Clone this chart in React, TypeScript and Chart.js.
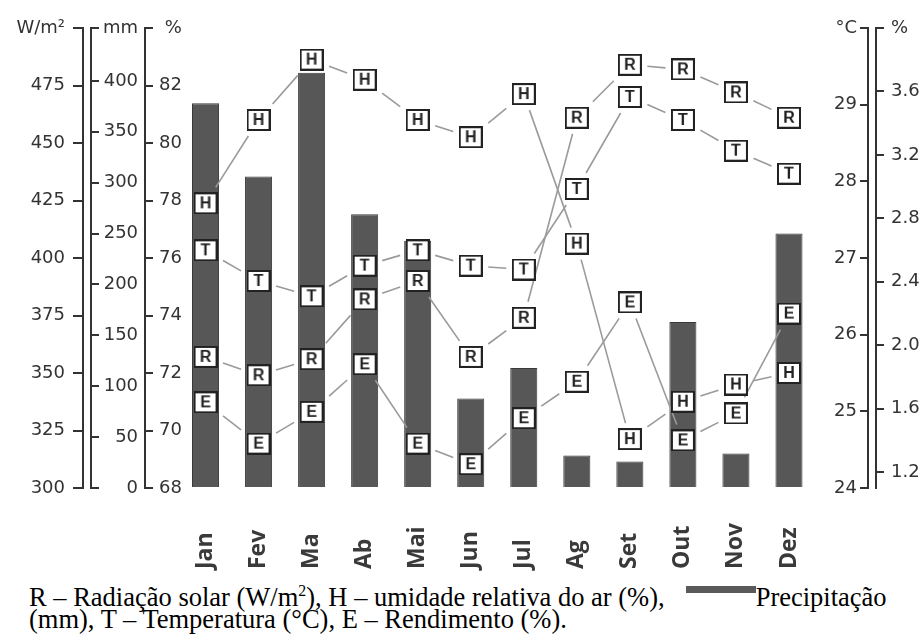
import React, { useEffect, useRef } from 'react';
import { Chart, registerables } from 'chart.js';

Chart.register(...registerables);

// ---- data ----
const months = ['Jan', 'Fev', 'Ma', 'Ab', 'Mai', 'Jun', 'Jul', 'Ag', 'Set', 'Out', 'Nov', 'Dez'];
const precipitationMm = [378, 306, 408, 269, 243, 88, 118, 32, 26, 163, 34, 250];
const radiationWm2 = [357, 349, 356, 382, 390, 357, 374, 461, 484, 482, 472, 461];
const humidityPct = [77.9, 80.8, 82.9, 82.2, 80.8, 80.2, 81.7, 76.5, 69.7, 71.0, 71.6, 72.0];
const temperatureC = [27.1, 26.7, 26.5, 26.9, 27.1, 26.9, 26.85, 27.9, 29.1, 28.8, 28.4, 28.1];
const yieldPct = [1.64, 1.38, 1.58, 1.88, 1.38, 1.25, 1.54, 1.77, 2.27, 1.4, 1.57, 2.2];

const radiationTicks = [300, 325, 350, 375, 400, 425, 450, 475, 500];
const precipTicks = [0, 50, 100, 150, 200, 250, 300, 350, 400, 452];
const humidityTicks = [68, 70, 72, 74, 76, 78, 80, 82, 84];
const tempTicks = [24, 25, 26, 27, 28, 29, 30];
const yieldTicks = [1.2, 1.6, 2.0, 2.4, 2.8, 3.2, 3.6, 4.0];

const AXIS = '#333333';
const TICK_FONT = { family: 'DejaVu Sans', size: 18 };
const GAP = 5.5;

function makeBox(letter: string): HTMLCanvasElement {
  const c = document.createElement('canvas');
  c.width = 24;
  c.height = 22;
  const g = c.getContext('2d')!;
  g.fillStyle = '#ffffff';
  g.fillRect(1, 1, 22, 20);
  g.strokeStyle = '#222222';
  g.lineWidth = 2;
  g.strokeRect(1, 1, 22, 20);
  g.fillStyle = '#222222';
  g.font = 'bold 16px "Liberation Sans"';
  g.textAlign = 'center';
  g.textBaseline = 'middle';
  g.fillText(letter, 12, 11.5);
  return c;
}

function drawGappedSegment(ctx: CanvasRenderingContext2D, a: any, b: any) {
  const dx = b.x - a.x;
  const dy = b.y - a.y;
  const hw = 12 + GAP;
  const hh = 10.5 + GAP;
  const t = Math.min(dx ? hw / Math.abs(dx) : Infinity, dy ? hh / Math.abs(dy) : Infinity);
  if (2 * t >= 1) return;
  ctx.beginPath();
  ctx.moveTo(a.x + dx * t, a.y + dy * t);
  ctx.lineTo(b.x - dx * t, b.y - dy * t);
  ctx.stroke();
}

const overlayPlugin = {
  id: 'overlay',
  afterDatasetDraw(chart: any, args: any) {
    if (args.index !== 0) return;
    const ctx = chart.ctx;
    ctx.save();
    ctx.strokeStyle = '#9a9a9a';
    ctx.lineWidth = 1.6;
    for (let d = 1; d < chart.data.datasets.length; d++) {
      const pts = chart.getDatasetMeta(d).data;
      for (let i = 0; i < pts.length - 1; i++) drawGappedSegment(ctx, pts[i], pts[i + 1]);
    }
    ctx.restore();
  },
  afterDraw(chart: any) {
    const ctx = chart.ctx;
    const xs = chart.scales.x;
    ctx.save();
    ctx.font = 'bold 23px "Open Sans"';
    ctx.fillStyle = '#3a3a3a';
    ctx.textAlign = 'left';
    ctx.textBaseline = 'middle';
    months.forEach((m, i) => {
      ctx.save();
      ctx.translate(xs.getPixelForValue(i), 569);
      ctx.rotate(-Math.PI / 2);
      ctx.fillText(m, 0, 0);
      ctx.restore();
    });
    ctx.restore();
  },
};

function yAxis(o: any) {
  const { position, weight, min, max, ticks, width, label, top, mirror, crossAlign, padding, tickLength, fmt } = o;
  return {
    type: 'linear',
    position,
    weight,
    min,
    max,
    afterBuildTicks: (s: any) => {
      s.ticks = ticks.map((v: number) => ({ value: v }));
    },
    afterFit: (s: any) => {
      s.width = width;
      s.paddingTop = 0;
      s.paddingBottom = 0;
    },
    ticks: {
      mirror,
      crossAlign,
      padding,
      font: TICK_FONT,
      color: AXIS,
      autoSkip: false,
      callback: (v: number) => (v === top ? label : fmt ? fmt(v) : String(v)),
    },
    grid: { drawOnChartArea: false, tickLength, color: AXIS, lineWidth: 2 },
    border: { display: true, color: AXIS, width: 2 },
  };
}

function spacer(position: string, width: number) {
  return {
    type: 'linear',
    position,
    weight: 1,
    min: 0,
    max: 1,
    display: true,
    afterFit: (s: any) => {
      s.width = width;
      s.paddingTop = 0;
      s.paddingBottom = 0;
    },
    ticks: { display: false },
    grid: { display: false },
    border: { display: false },
  };
}

export default function App() {
  const ref = useRef<HTMLCanvasElement | null>(null);

  useEffect(() => {
    if (!ref.current) return;
    const chart = new Chart(ref.current, {
      type: 'bar',
      data: {
        labels: months,
        datasets: [
          {
            type: 'bar',
            label: 'Precipitação (mm)',
            data: precipitationMm,
            yAxisID: 'yMM',
            backgroundColor: '#575757',
            borderColor: '#3a3a3a',
            borderWidth: 1,
            categoryPercentage: 1,
            barPercentage: 0.51,
            order: 2,
          },
          {
            type: 'line',
            label: 'R',
            data: radiationWm2,
            yAxisID: 'yW',
            showLine: false,
            pointStyle: makeBox('R'),
            pointRadius: 12,
            pointHoverRadius: 12,
            order: 1,
          },
          {
            type: 'line',
            label: 'H',
            data: humidityPct,
            yAxisID: 'yH',
            showLine: false,
            pointStyle: makeBox('H'),
            pointRadius: 12,
            pointHoverRadius: 12,
            order: 1,
          },
          {
            type: 'line',
            label: 'T',
            data: temperatureC,
            yAxisID: 'yT',
            showLine: false,
            pointStyle: makeBox('T'),
            pointRadius: 12,
            pointHoverRadius: 12,
            order: 1,
          },
          {
            type: 'line',
            label: 'E',
            data: yieldPct,
            yAxisID: 'yE',
            showLine: false,
            pointStyle: makeBox('E'),
            pointRadius: 12,
            pointHoverRadius: 12,
            order: 1,
          },
        ] as any,
      },
      options: {
        responsive: false,
        animation: false,
        layout: { padding: { top: 28, bottom: 87, left: 0, right: 0 } },
        plugins: { legend: { display: false }, tooltip: { enabled: false } },
        scales: {
          x: { type: 'category', display: false, offset: true },
          yW: yAxis({
            position: 'left', weight: 4, min: 300, max: 500, ticks: radiationTicks, width: 83,
            label: 'W/m²', top: 500, mirror: false, crossAlign: 'near', padding: 8, tickLength: 10,
          }),
          yMM: yAxis({
            position: 'left', weight: 3, min: 0, max: 452, ticks: precipTicks, width: 8,
            label: 'mm', top: 452, mirror: true, crossAlign: 'far', padding: 12, tickLength: -8,
          }),
          yH: yAxis({
            position: 'left', weight: 2, min: 68, max: 84, ticks: humidityTicks, width: 54,
            label: '%', top: 84, mirror: true, crossAlign: 'far', padding: 14, tickLength: -8,
          }),
          sL: spacer('left', 34),
          sR: spacer('right', 52.5),
          yT: yAxis({
            position: 'right', weight: 2, min: 24, max: 30, ticks: tempTicks, width: 8,
            label: '°C', top: 30, mirror: true, crossAlign: 'near', padding: -11, tickLength: -8,
          }),
          yE: yAxis({
            position: 'right', weight: 3, min: 1.1, max: 4.0, ticks: yieldTicks, width: 47,
            label: '%', top: 4, mirror: false, crossAlign: 'near', padding: 7, tickLength: 8,
            fmt: (v: number) => v.toFixed(1),
          }),
        } as any,
      },
      plugins: [overlayPlugin as any],
    });
    return () => chart.destroy();
  }, []);

  return (
    <div style={{ position: 'absolute', left: 0, top: 0, width: 923, height: 642, background: '#ffffff' }}>
      <canvas
        ref={ref}
        width={923}
        height={575}
        style={{ position: 'absolute', left: 0, top: 0, width: 923, height: 575 }}
      />
      <div
        style={{
          position: 'absolute',
          left: 29,
          top: 587,
          fontFamily: '"Liberation Serif", serif',
          fontSize: 26.5,
          lineHeight: '21.6px',
          whiteSpace: 'nowrap',
          color: '#000',
        }}
      >
        R – Radiação solar (W/m
        <sup style={{ fontSize: '0.6em', lineHeight: 0, verticalAlign: 'baseline', position: 'relative', top: '-0.6em' }}>2</sup>
        ), H – umidade relativa do ar (%),
        <span
          style={{
            display: 'inline-block',
            width: 70,
            height: 7,
            background: '#5a5a5a',
            marginLeft: 21,
            verticalAlign: 'middle',
            position: 'relative',
            top: -10,
          }}
        />
        Precipitação
        <br />
        (mm), T – Temperatura (°C), E – Rendimento (%).
      </div>
    </div>
  );
}
